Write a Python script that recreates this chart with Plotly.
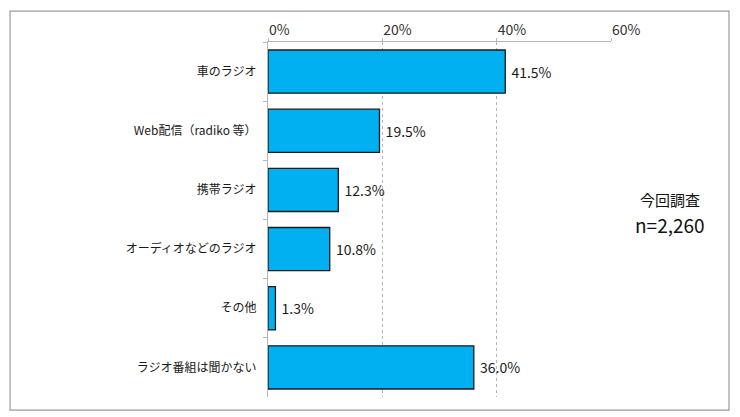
import plotly.graph_objects as go

# データ
categories = ['車のラジオ', 'Web配信（radiko 等）', '携帯ラジオ',
              'オーディオなどのラジオ', 'その他', 'ラジオ番組は聞かない']
values = [41.5, 19.5, 12.3, 10.8, 1.3, 36.0]
x_ticks = [0, 20, 40, 60]
x_tick_labels = ['0%', '20%', '40%', '60%']
note_title = '今回調査'
note_n = 'n=2,260'

FONT = 'Noto Sans CJK JP'

fig = go.Figure()

fig.add_trace(go.Bar(
    y=categories,
    x=values,
    orientation='h',
    marker=dict(color='#00B0F0', line=dict(color='#1a1a1a', width=1.3)),
    text=[f' {v:.1f}%' for v in values],
    textposition='outside',
    textfont=dict(family=FONT, size=14, color='#1a1a1a'),
    cliponaxis=False,
))

# 外枠
fig.add_shape(type='rect', xref='paper', yref='paper',
              x0=-0.752, x1=1.344, y0=-0.037, y1=1.087,
              line=dict(color='#9a9a9a', width=1.2))

# 今回調査 n=2,260
fig.add_annotation(x=1.172, y=0.555, xref='paper', yref='paper',
                   xanchor='center', yanchor='middle',
                   text=note_title, showarrow=False,
                   font=dict(family=FONT, size=15, color='#111111'))
fig.add_annotation(x=1.172, y=0.485, xref='paper', yref='paper',
                   xanchor='center', yanchor='middle',
                   text=note_n, showarrow=False,
                   font=dict(family=FONT, size=19, color='#111111'))

# ページの body 余白 (8px) を差し引いた余白
fig.update_layout(
    width=740, height=417,
    margin=dict(l=260, r=137, t=34, b=28),
    plot_bgcolor='white',
    paper_bgcolor='white',
    showlegend=False,
    bargap=0.27,
    font=dict(family=FONT, size=12, color='#1a1a1a'),
    xaxis=dict(
        side='top',
        range=[0, 60],
        tickvals=x_ticks,
        ticktext=x_tick_labels,
        ticklabelposition='outside right',
        showgrid=True,
        gridcolor='#b5b5b5',
        griddash='dot',
        gridwidth=1,
        showline=True,
        linecolor='#b5b5b5',
        ticks='outside',
        ticklen=3,
        tickcolor='#b5b5b5',
        tickfont=dict(family=FONT, size=14, color='#333333'),
        zeroline=False,
        automargin=False,
    ),
    yaxis=dict(
        autorange='reversed',
        showline=True,
        linecolor='#b5b5b5',
        ticks='outside',
        tickson='boundaries',
        ticklen=4,
        tickcolor='#b5b5b5',
        tickfont=dict(family=FONT, size=12, color='#1a1a1a'),
        showgrid=False,
        ticklabelstandoff=8,
        automargin=False,
    ),
)

fig.write_html('out.html')
